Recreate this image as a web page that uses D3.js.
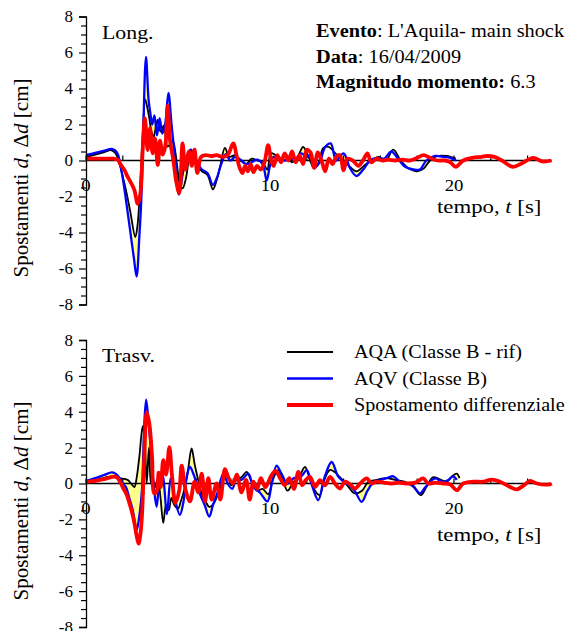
<!DOCTYPE html>
<html>
<head>
<meta charset="utf-8">
<script src="https://cdn.jsdelivr.net/npm/d3@7"></script>
<style>
  body { margin: 0; background: #fff; }
</style>
</head>
<body>
<div id="chart"></div>
<script>
//DATA--------------------
// [time (s), displacement (cm)]
var longAQA = [[0,0.2],[0.5,0.33],[1.0,0.47],[1.36,0.58],[1.6,0.4],[1.81,-0.15],[2.0,-0.9],[2.17,-1.64],[2.4,-2.8],[2.68,-4.25],[2.8,-3.6],[2.9,-2.2],[3.0,-0.2],[3.08,1.4],[3.22,3.4],[3.34,2.9],[3.44,2.35],[3.56,1.6],[3.68,1.32],[3.8,1.9],[3.89,2.25],[3.98,1.8],[4.06,1.6],[4.15,1.8],[4.24,1.95],[4.33,1.3],[4.42,0.77],[4.58,0.9],[4.73,1.05],[4.85,0.5],[4.96,-0.35],[5.1,-1.3],[5.25,-1.55],[5.43,-1.0],[5.6,0.2],[5.7,0.6],[5.9,0.2],[6.1,-0.3],[6.3,-0.6],[6.6,-0.8],[6.9,-1.6],[7.1,-1.1],[7.3,-0.3],[7.55,0.7],[7.8,0.2],[8.1,0.3],[8.4,0.0],[8.7,-0.2],[9.0,0.1],[9.3,0.0],[9.6,-0.1],[9.85,-0.5],[10.05,0.4],[10.3,0.3],[10.6,0.1],[10.9,0.3],[11.2,-0.1],[11.5,0.2],[11.8,0.75],[12.1,0.2],[12.4,-0.45],[12.65,-0.1],[12.9,0.7],[13.2,0.75],[13.6,0.35],[14.0,0.0],[14.3,-0.3],[14.7,-0.6],[15.1,-0.3],[15.5,0.0],[15.9,0.2],[16.3,0.0],[16.7,0.6],[17.1,0.0],[17.5,-0.4],[18.0,-0.6],[18.35,-0.45],[18.7,0.0],[19.1,0.25],[19.6,0.25],[20.1,0.1]];
var longAQV = [[0,0.3],[0.5,0.42],[1.0,0.55],[1.4,0.65],[1.6,0.55],[1.75,0.3],[2.0,-1.0],[2.2,-2.4],[2.4,-3.9],[2.6,-5.4],[2.75,-6.45],[2.9,-4.2],[3.0,-2.3],[3.1,1.2],[3.26,5.75],[3.4,3.4],[3.5,2.6],[3.6,2.0],[3.72,2.5],[3.86,1.4],[4.0,2.35],[4.15,1.5],[4.3,2.0],[4.48,3.75],[4.65,2.0],[4.85,0.0],[5.05,-1.9],[5.25,-0.8],[5.45,0.2],[5.7,0.6],[5.9,0.1],[6.1,-0.2],[6.3,-0.5],[6.6,-0.7],[6.9,-1.35],[7.1,-1.0],[7.35,-0.2],[7.6,0.35],[7.85,0.0],[8.1,0.2],[8.4,0.05],[8.7,-0.2],[9.0,-0.1],[9.3,0.05],[9.6,-0.2],[9.82,-1.1],[10.0,-0.3],[10.2,0.2],[10.5,0.1],[10.8,0.0],[11.1,0.1],[11.4,0.05],[11.7,0.4],[12.0,0.2],[12.2,0.3],[12.45,-0.35],[12.7,-0.1],[13.0,0.75],[13.3,0.95],[13.6,0.0],[14.0,0.4],[14.35,-0.43],[14.7,-0.86],[15.07,-0.5],[15.43,0.0],[15.8,0.15],[16.2,0.1],[16.6,0.5],[16.95,0.1],[17.34,-0.35],[17.8,-0.5],[18.15,-0.5],[18.5,0.0],[18.97,0.25],[19.4,0.2],[19.8,0.15],[20.1,0.0]];
var longDiff = [[0,0.1],[0.5,0.1],[1.0,0.1],[1.5,0.1],[1.72,0.05],[1.9,-0.25],[2.1,-0.55],[2.26,-0.9],[2.45,-1.25],[2.63,-1.64],[2.81,-2.4],[2.95,-1.9],[3.08,0.58],[3.2,2.35],[3.35,0.58],[3.48,1.8],[3.62,0.4],[3.75,1.23],[3.9,-0.25],[4.02,1.1],[4.17,0.33],[4.31,0.8],[4.44,3.05],[4.57,1.1],[4.75,0.0],[4.89,-1.08],[5.07,-1.82],[5.25,0.95],[5.4,-0.5],[5.6,0.5],[5.75,-0.3],[5.9,0.6],[6.05,-0.7],[6.25,0.2],[6.5,0.3],[6.8,0.25],[7.1,0.3],[7.4,0.2],[7.7,0.3],[8.0,0.95],[8.2,0.2],[8.35,-0.4],[8.5,-0.7],[8.65,-0.3],[8.8,-0.6],[8.95,-0.2],[9.1,-0.65],[9.3,-0.3],[9.5,-0.5],[9.7,-0.1],[9.9,0.85],[10.05,0.1],[10.2,-0.3],[10.4,0.3],[10.6,-0.1],[10.8,0.4],[11.0,0.0],[11.2,0.5],[11.4,-0.1],[11.6,0.3],[11.8,-0.2],[12.0,0.6],[12.2,0.45],[12.4,-0.4],[12.6,0.45],[12.8,0.0],[13.0,-0.6],[13.2,0.1],[13.4,-0.2],[13.6,0.2],[13.8,0.3],[14.0,-0.55],[14.2,0.1],[14.5,0.0],[14.8,-0.3],[15.05,0.0],[15.3,0.4],[15.5,-0.1],[15.8,0.1],[16.1,0.0],[16.4,0.05],[16.8,0.0],[17.2,0.05],[17.6,0.0],[18.0,0.15],[18.35,0.3],[18.7,0.15],[19.1,0.0],[19.5,0.0],[19.8,-0.1],[20.1,-0.35],[20.5,0.0],[21.0,0.15],[21.5,0.2],[21.8,0.25],[22.2,0.2],[22.6,0.0],[23.2,-0.35],[23.7,-0.15],[24.3,0.15],[24.8,-0.05],[25.3,0.0]];

var travAQA = [[0,0.1],[0.5,0.2],[1.0,0.32],[1.45,0.4],[1.8,0.3],[2.26,0.2],[2.45,0.0],[2.63,-0.2],[2.75,0.3],[2.9,1.5],[3.08,3.2],[3.2,2.2],[3.3,0.0],[3.42,2.0],[3.52,0.0],[3.6,0.4],[3.75,-0.2],[3.9,0.3],[4.05,-0.8],[4.2,-2.2],[4.35,-1.2],[4.5,-1.5],[4.64,-0.8],[4.8,-1.2],[5.0,-1.4],[5.15,-1.0],[5.35,-0.3],[5.55,0.8],[5.74,1.95],[5.9,1.1],[6.05,0.4],[6.3,-0.6],[6.5,-1.0],[6.7,-1.3],[6.95,-1.1],[7.2,-0.5],[7.45,0.2],[7.65,0.65],[7.9,-0.1],[8.15,0.2],[8.45,0.35],[8.73,0.65],[9.0,0.1],[9.3,-0.4],[9.6,-0.3],[9.9,-0.6],[10.15,0.2],[10.44,0.75],[10.7,0.2],[10.95,-0.4],[11.3,0.1],[11.55,0.3],[11.9,0.92],[12.15,0.3],[12.45,-0.4],[12.7,-0.65],[12.95,0.2],[13.25,0.75],[13.5,0.65],[13.8,0.35],[14.2,-0.1],[14.6,-0.55],[15.0,-0.4],[15.35,0.1],[15.8,0.2],[16.3,0.3],[16.8,0.2],[17.3,0.1],[17.8,-0.2],[18.2,-0.65],[18.5,-0.2],[18.85,0.35],[19.2,0.25],[19.6,0.1],[19.9,0.4],[20.15,0.55],[20.3,0.3]];
var travAQV = [[0,0.15],[0.5,0.3],[1.0,0.48],[1.4,0.62],[1.6,0.55],[1.81,0.33],[2.0,0.0],[2.17,-0.2],[2.35,-0.8],[2.54,-1.48],[2.75,-2.6],[2.9,-1.8],[3.04,-0.37],[3.17,3.33],[3.27,4.68],[3.4,3.4],[3.55,1.6],[3.7,-0.3],[3.84,-1.3],[3.99,0.2],[4.1,0.6],[4.2,0.3],[4.4,-1.7],[4.6,0.3],[4.8,-0.7],[5.1,-1.75],[5.3,-1.0],[5.45,0.2],[5.65,0.92],[5.85,0.5],[6.2,-0.6],[6.45,-1.2],[6.7,-1.85],[6.9,-1.2],[7.15,-0.5],[7.46,0.55],[7.7,0.0],[7.95,-0.3],[8.2,0.3],[8.45,0.2],[8.82,0.55],[9.1,-0.2],[9.45,-0.5],[9.86,-1.0],[10.1,0.0],[10.36,1.0],[10.6,0.6],[10.95,0.0],[11.3,0.3],[11.7,0.4],[12.0,0.74],[12.25,0.0],[12.62,-0.93],[12.95,0.3],[13.35,1.2],[13.7,0.4],[14.0,0.1],[14.3,-0.1],[14.6,-0.4],[14.98,-1.02],[15.3,-0.4],[15.65,0.1],[16.0,0.2],[16.35,0.3],[16.7,0.4],[17.05,0.1],[17.4,0.0],[17.75,-0.1],[18.15,-0.55],[18.45,-0.2],[18.97,0.28],[19.35,0.1],[19.7,0.2],[19.95,0.4],[20.15,0.2]];
var travDiff = [[0,0.1],[0.5,0.15],[1.0,0.25],[1.63,0.37],[1.85,0.1],[1.99,-0.2],[2.2,-0.6],[2.36,-1.1],[2.5,-1.6],[2.63,-2.2],[2.75,-2.9],[2.86,-3.35],[2.96,-2.8],[3.04,-1.8],[3.17,1.48],[3.3,3.98],[3.44,3.35],[3.59,1.5],[3.71,-0.55],[3.84,-0.45],[3.95,0.6],[4.06,-0.2],[4.2,1.3],[4.35,0.5],[4.53,2.03],[4.67,0.5],[4.86,-1.1],[5.07,-0.37],[5.2,1.0],[5.4,-0.3],[5.65,-1.0],[5.9,0.1],[6.1,-0.5],[6.29,0.55],[6.47,-1.0],[6.65,0.3],[6.83,-0.9],[7.1,0.0],[7.3,-0.9],[7.55,0.8],[7.75,0.3],[8.0,0.0],[8.2,0.5],[8.45,-0.5],[8.7,0.2],[8.9,-0.9],[9.1,0.1],[9.3,-0.3],[9.5,0.3],[9.75,-0.2],[10.05,0.4],[10.3,0.7],[10.55,0.3],[10.8,-0.1],[11.05,0.3],[11.3,-0.3],[11.54,0.65],[11.75,-0.1],[11.95,0.2],[12.17,0.37],[12.45,-0.19],[12.72,0.19],[12.99,-0.1],[13.26,0.37],[13.53,0.0],[13.8,-0.28],[14.08,0.1],[14.35,-0.05],[14.62,-0.28],[14.9,0.0],[15.26,0.28],[15.53,0.0],[15.8,0.1],[16.2,0.05],[16.6,0.0],[17.0,0.05],[17.4,0.0],[17.9,0.05],[18.33,0.28],[18.6,0.0],[19.0,0.05],[19.4,0.0],[19.8,-0.05],[20.15,-0.37],[20.5,0.0],[21.05,0.1],[21.6,0.1],[22.05,0.22],[22.5,0.1],[23.05,-0.19],[23.4,-0.33],[23.8,-0.1],[24.14,0.15],[24.5,0.0],[25.2,-0.05],[25.3,0.0]];

var yTicksMajor = [-8, -6, -4, -2, 0, 2, 4, 6, 8];
var xTicksLabelled = [0, 10, 20];
var xTicksMinor = [2, 4, 6, 8, 12, 14, 16, 18, 22, 24];

var seriesNames = ["AQA (Classe B - rif)", "AQV (Classe B)", "Spostamento differenziale"];
var seriesColors = ["#000000", "#0000ff", "#ff0000"];
var seriesWidths = [1.8, 2.3, 3.8];

//SETUP--------------------
var FONT = "'Liberation Serif'";
var svgWidth = 568;
var svgHeight = 631;

var svg = d3.select("#chart")
    .append("svg")
    .attr("width", svgWidth)
    .attr("height", svgHeight)
    .style("font-family", FONT);

svg.append("rect").attr("width", svgWidth).attr("height", svgHeight).attr("fill", "#fff");

var xScale = d3.scaleLinear().domain([0, 25.3]).range([86, 551.5]);

var line = d3.line()
    .x(d => xScale(d[0]))
    .curve(d3.curveCatmullRom.alpha(0.5));

// the original figure is a little stretched sideways, so text gets a scaleX
function addText(parent, x, y, size, sx) {
    return parent.append("text")
        .attr("transform", `translate(${x},${y}) scale(${sx || 1},1)`)
        .style("font-family", FONT)
        .attr("font-size", size)
        .attr("fill", "#000");
}

function drawPanel(cfg) {
    var yScale = d3.scaleLinear().domain([-8, 8]).range(cfg.yRange);
    line.y(d => yScale(d[1]));
    var g = svg.append("g");

    // yellow area between the two records
    var ring = cfg.aqa.concat(cfg.aqv.slice().reverse());
    g.append("path")
        .attr("d", line(ring) + "Z")
        .attr("fill", "#ffff8c")
        .attr("stroke", "none");

    // time axis on the zero line
    var y0 = yScale(0);
    g.append("line")
        .attr("x1", xScale(0)).attr("x2", xScale(25.3))
        .attr("y1", y0).attr("y2", y0)
        .attr("stroke", "#000").attr("stroke-width", 1.3);
    g.selectAll("line.xtick")
        .data(xTicksLabelled.concat(xTicksMinor))
        .enter().append("line")
        .attr("x1", d => xScale(d)).attr("x2", d => xScale(d))
        .attr("y1", y0).attr("y2", y0 - 5)
        .attr("stroke", "#000").attr("stroke-width", 1.2);

    // series
    [cfg.aqa, cfg.aqv, cfg.diff].forEach(function(s, i) {
        g.append("path")
            .attr("d", line(s))
            .attr("fill", "none")
            .attr("stroke", seriesColors[i])
            .attr("stroke-width", seriesWidths[i])
            .attr("stroke-linejoin", "round");
    });

    // x tick labels
    xTicksLabelled.forEach(function(d) {
        addText(g, xScale(d), y0 + 30, 17, 1.1)
            .attr("text-anchor", "middle")
            .text(d);
    });

    addText(g, 437, cfg.xTitleY, 19, 1.2)
        .html('tempo, <tspan font-style="italic">t</tspan> [s]');

    // y axis
    var yAxis = g.append("g")
        .attr("transform", "translate(86,0)")
        .call(d3.axisLeft(yScale).tickValues(yTicksMajor).tickSize(7).tickPadding(6));
    yAxis.select(".domain").attr("stroke-width", 1.3);
    yAxis.selectAll("line").attr("stroke-width", 1.2);
    yAxis.selectAll("text")
        .style("font-family", FONT)
        .attr("font-size", 17)
        .text(d => d < 0 ? "-" + Math.abs(d) : d);

    var minor = d3.range(-8, 8.01, 0.5).filter(v => v % 2 !== 0);
    var yMinor = g.append("g")
        .attr("transform", "translate(86,0)")
        .call(d3.axisLeft(yScale).tickValues(minor).tickSize(5).tickFormat(""));
    yMinor.select(".domain").remove();
    yMinor.selectAll("line").attr("stroke-width", 1.2);

    g.append("text")
        .attr("transform", `translate(28, ${cfg.yTitleY}) rotate(-90)`)
        .style("font-family", FONT)
        .attr("font-size", 21)
        .attr("text-anchor", "middle")
        .html('Spostamenti <tspan font-style="italic">d</tspan>, Δ<tspan font-style="italic">d</tspan> [cm]');

    addText(g, 102, cfg.tagY, 19, 1.15).text(cfg.tag);

    return g;
}

//MAIN--------------------
drawPanel({aqa: longAQA, aqv: longAQV, diff: longDiff, yRange: [304.5, 16.5],
    tag: "Long.", tagY: 39, xTitleY: 213, yTitleY: 178});
drawPanel({aqa: travAQA, aqv: travAQV, diff: travDiff, yRange: [627, 340],
    tag: "Trasv.", tagY: 362, xTitleY: 541, yTitleY: 501});

// event info
addText(svg, 316, 37, 18, 1.13)
    .html('<tspan font-weight="bold">Evento</tspan>: L\'Aquila- main shock');
addText(svg, 316, 63, 18, 1.13)
    .html('<tspan font-weight="bold">Data</tspan>: 16/04/2009');
addText(svg, 316, 88, 18, 1.13)
    .html('<tspan font-weight="bold">Magnitudo momento:</tspan> 6.3');

// legend
seriesNames.forEach(function(name, i) {
    var ly = 352 + i * 26.5;
    svg.append("line")
        .attr("x1", 287).attr("x2", 333)
        .attr("y1", ly).attr("y2", ly)
        .attr("stroke", seriesColors[i])
        .attr("stroke-width", i === 2 ? 4 : seriesWidths[i]);
    addText(svg, 354, ly + 6, 18, 1.12).text(name);
});
</script>
</body>
</html>
